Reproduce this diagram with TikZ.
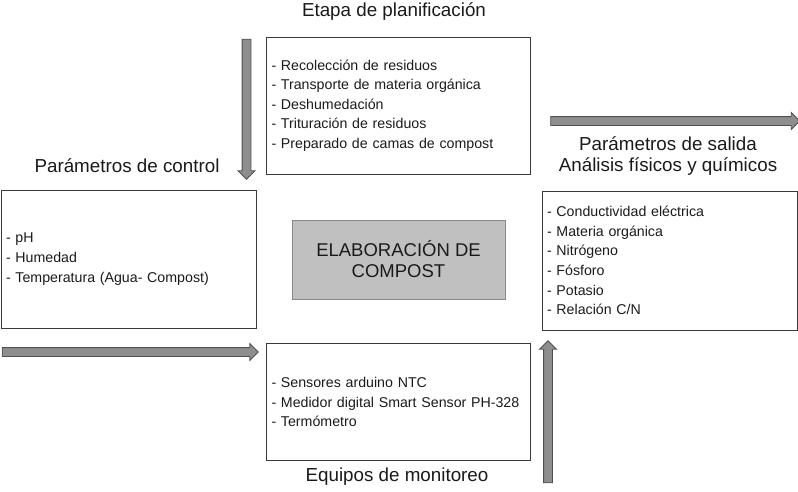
\documentclass[tikz,border=0pt]{standalone}
\usepackage{fontspec}
\setmainfont{Liberation Sans}
\usetikzlibrary{shapes.arrows}

\definecolor{boxline}{HTML}{3A3A3A}
\definecolor{arrowgray}{HTML}{8E8E8E}
\definecolor{arrowline}{HTML}{505050}
\definecolor{corefill}{HTML}{C0C0C0}
\definecolor{coreline}{HTML}{8A8A8A}
\definecolor{ink}{HTML}{1A1A1A}

\tikzset{
	listbox/.style={draw=boxline, line width=0.9pt, inner xsep=5pt, align=left, text=ink,
		font=\fontsize{14.2}{19.6}\selectfont},
	heading/.style={align=center, text=ink, font=\fontsize{18.8}{21}\selectfont},
	bigarrow/.style={single arrow, draw=arrowline, fill=arrowgray, line width=0.8pt,
		inner sep=4pt, single arrow head extend=4pt, single arrow head indent=0pt}
}

\begin{document}
\begin{tikzpicture}[x=1pt, y=-1pt]
	\useasboundingbox (0,0) rectangle (798,491);
	% headings
	\node[heading] (planhead) at (394,12) {Etapa de planificación};
	\node[heading] (ctrlhead) at (127,166) {Parámetros de control};
	\node[heading] (outhead) at (668,156) {Parámetros de salida\\Análisis físicos y químicos};
	\node[heading] (monhead) at (397,477) {Equipos de monitoreo};
	% boxes
	\node[listbox, minimum width=264, minimum height=137, text width=254] (plan) at (398.5,105.5)
		{- Recolección de residuos\\- Transporte de materia orgánica\\- Deshumedación\\- Trituración de residuos\\- Preparado de camas de compost};
	\node[listbox, minimum width=255, minimum height=138, text width=245] (ctrl) at (128.5,259)
		{- pH\\- Humedad\\- Temperatura (Agua- Compost)};
	\node[draw=coreline, fill=corefill, line width=0.9pt, minimum width=213, minimum height=79,
		align=center, text=ink, font=\fontsize{18.5}{21}\selectfont] (core) at (398.5,259.5)
		{ELABORACIÓN DE\\COMPOST};
	\node[listbox, minimum width=255, minimum height=139, text width=245] (out) at (669.5,260.5)
		{- Conductividad eléctrica\\- Materia orgánica\\- Nitrógeno\\- Fósforo\\- Potasio\\- Relación C/N};
	\node[listbox, minimum width=264, minimum height=117, text width=254] (mon) at (398.5,402)
		{- Sensores arduino NTC\\- Medidor digital Smart Sensor PH-328\\- Termómetro};
	% arrows
	\node[bigarrow, minimum height=140, rotate=-90] (adown) at (246.5,107) {};
	\node[bigarrow, minimum height=249] (aright) at (673,121) {};
	\node[bigarrow, minimum height=256] (ain) at (128,352) {};
	\node[bigarrow, minimum height=142, rotate=90] (aup) at (548,414) {};
\end{tikzpicture}
\end{document}
